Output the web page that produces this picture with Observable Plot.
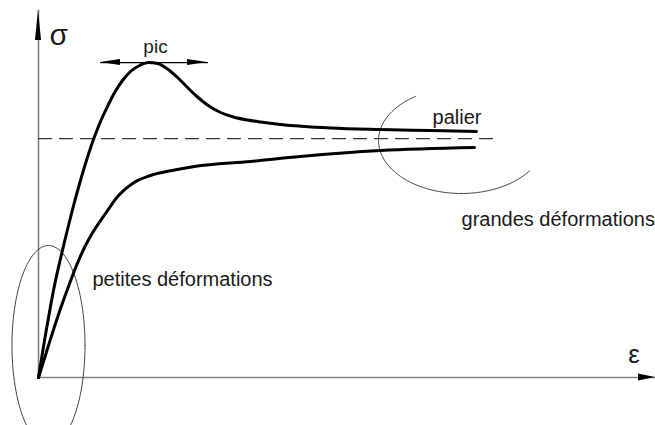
<!DOCTYPE html>
<html>
<head>
<meta charset="utf-8">
<script src="https://cdn.jsdelivr.net/npm/d3@7"></script>
<script src="https://cdn.jsdelivr.net/npm/@observablehq/plot@0.6"></script>
<style>
  html, body { margin: 0; padding: 0; background: #fff; }
  #chart svg { display: block; }
</style>
</head>
<body>
<div id="chart"></div>
<script>
// Strain (ε) values, arbitrary units 0..100
const peakEps   = [0, 0.97, 1.94, 2.76, 3.57, 4.38, 5.35, 6.48, 7.62, 8.91, 10.05, 11.18, 12.16, 13.61, 14.91, 16.53, 17.83, 19.29, 20.91, 22.53, 24.15, 25.77, 27.39, 29.50, 31.60, 33.87, 35.98, 39.22, 47.33, 55.43, 63.53, 70.99];
// Stress (σ) values for the curve with a peak
const peakSig   = [0, 10.08, 19.35, 26.43, 32.43, 38.15, 44.69, 51.77, 58.31, 64.85, 69.75, 73.84, 77.11, 80.93, 83.38, 85.15, 85.83, 85.56, 84.06, 81.74, 79.02, 76.43, 74.25, 72.21, 70.98, 70.16, 69.62, 68.94, 67.98, 67.57, 67.30, 67.03];
// Curve without a peak
const monoEps   = [0, 1.62, 3.24, 4.86, 6.16, 7.46, 8.59, 10.86, 12.97, 15.24, 18.15, 22.04, 25.28, 34.36, 42.46, 55.43, 70.66];
const monoSig   = [0, 8.72, 17.17, 24.80, 30.52, 35.42, 38.96, 44.69, 49.59, 52.86, 55.04, 56.54, 57.49, 58.86, 60.22, 61.85, 62.67];

// Plateau (palier) level
const palierSig = 65.1;
const palierEnd = 74.4;

// Peak arrow extent
const picFrom = 10.05, picTo = 27.39, picSig = 85.8;

// Annotation labels
const labels = [
  {text: "σ", x: 1.8, y: 93.1, size: 30, anchor: "start"},
  {text: "ε", x: 95.6, y: 6.1, size: 26, anchor: "start"},
  {text: "pic", x: 18.96, y: 90.2, size: 19, anchor: "middle"},
  {text: "palier", x: 63.86, y: 70.95, size: 20, anchor: "start"},
  {text: "grandes déformations", x: 68.56, y: 43.16, size: 20, anchor: "start"},
  {text: "petites déformations", x: 8.75, y: 26.8, size: 20, anchor: "start"}
];

// Ellipses (zones) : center, radii, angle range
const smallZone = {cx: 1.62, cy: 8.72, rx: 5.92, ry: 27.25, t0: 0, t1: 2 * Math.PI};
const largeZone = {cx: 68.56, cy: 64.58, rx: 13.45, ry: 14.44, t0: 2.16, t1: 5.67};

const peakCurve = peakEps.map((e, i) => ({x: e, y: peakSig[i]}));
const monoCurve = monoEps.map((e, i) => ({x: e, y: monoSig[i]}));

function ellipsePts(z) {
  const pts = [];
  const n = 120;
  for (let i = 0; i <= n; i++) {
    const t = z.t0 + (z.t1 - z.t0) * i / n;
    pts.push({x: z.cx + z.rx * Math.cos(t), y: z.cy + z.ry * Math.sin(t)});
  }
  return pts;
}

// arrowheads as small filled triangles
function hHead(id, tip, base, y, h) {
  return [{id, x: tip, y1: y, y2: y}, {id, x: base, y1: y - h, y2: y + h}];
}
const hHeads = [
  ...hHead("x", 100, 97.24, 0, 0.95),
  ...hHead("picL", picFrom, 13.29, picSig, 0.82),
  ...hHead("picR", picTo, 24.15, picSig, 0.82)
];
const vHead = [{y: 100, x1: 0, x2: 0}, {y: 91.8, x1: -0.49, x2: 0.49}];

const fontFam = "'Liberation Sans', Arial, Helvetica, sans-serif";

const chart = Plot.plot({
  width: 655,
  height: 425,
  marginLeft: 38,
  marginRight: 0,
  marginTop: 10,
  marginBottom: 48,
  x: {domain: [0, 100], axis: null},
  y: {domain: [0, 100], axis: null},
  style: {background: "#fff", overflow: "visible", fontFamily: fontFam},
  marks: [
    // axes
    Plot.line([{x: 0, y: 0}, {x: 0, y: 100}], {x: "x", y: "y", stroke: "#808080", strokeWidth: 1.6}),
    Plot.line([{x: 0, y: 0}, {x: 100, y: 0}], {x: "x", y: "y", stroke: "#808080", strokeWidth: 1.6}),
    Plot.areaX(vHead, {y: "y", x1: "x1", x2: "x2", fill: "#000"}),
    // plateau dashed line
    Plot.line([{x: 0, y: palierSig}, {x: palierEnd, y: palierSig}], {x: "x", y: "y", stroke: "#333", strokeWidth: 1.1, strokeDasharray: "13,8"}),
    // zones
    Plot.line(ellipsePts(smallZone), {x: "x", y: "y", stroke: "#444", strokeWidth: 1}),
    Plot.line(ellipsePts(largeZone), {x: "x", y: "y", stroke: "#444", strokeWidth: 1}),
    // curves
    Plot.line(peakCurve, {x: "x", y: "y", stroke: "#000", strokeWidth: 3, curve: "monotone-x"}),
    Plot.line(monoCurve, {x: "x", y: "y", stroke: "#000", strokeWidth: 3, curve: "monotone-x"}),
    // pic arrow
    Plot.line([{x: picFrom, y: picSig}, {x: picTo, y: picSig}], {x: "x", y: "y", stroke: "#000", strokeWidth: 1.2}),
    Plot.areaY(hHeads, {x: "x", y1: "y1", y2: "y2", z: "id", fill: "#000"}),
    // labels
    ...labels.map(l => Plot.text([l], {x: "x", y: "y", text: "text", fontSize: l.size, textAnchor: l.anchor, fill: "#1a1a1a", fontFamily: fontFam}))
  ]
});

document.getElementById("chart").appendChild(chart);
</script>
</body>
</html>
